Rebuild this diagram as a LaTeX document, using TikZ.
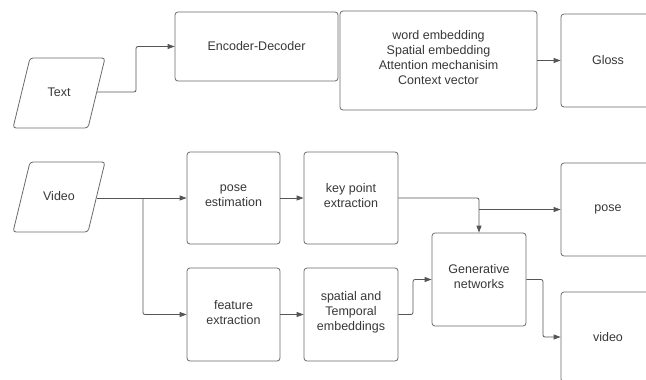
\documentclass[tikz,border=0pt]{standalone}
\usepackage{fontspec}
\setmainfont{Liberation Sans}
\usetikzlibrary{arrows.meta}
\definecolor{linegray}{HTML}{555555}
\definecolor{boxgray}{HTML}{6A6A6A}
\definecolor{txtgray}{HTML}{383838}
\tikzset{
  box/.style={draw=boxgray, line width=0.8pt, rounded corners=3pt, inner sep=0pt,
    align=center, text=txtgray, font=\fontsize{12.5}{15}\selectfont},
  lbl/.style={inner sep=0pt, align=center, text=txtgray, font=\fontsize{12.5}{15}\selectfont},
  conn/.style={draw=linegray, line width=0.8pt, rounded corners=2pt},
  arr/.style={conn, -{Triangle[length=7pt,width=5pt]}},
  para/.style={draw=boxgray, line width=0.8pt, rounded corners=3pt}
}
\begin{document}
\begin{tikzpicture}[x=1pt,y=-1pt]
\useasboundingbox (0,0) rectangle (646,380);
\clip (0,0) rectangle (646,380);
\fill[white] (0,0) rectangle (646,380);

% Text input
\draw[para] (30,58) -- (105,58) -- (88,128) -- (13,128) -- cycle;
\node[lbl] (text) at (59,92) {Text};
\coordinate (textR) at (97,92);

% Top row boxes
\node[box, minimum width=163pt, minimum height=69pt] (enc) at (256.5,46.5) {Encoder-Decoder};
\node[box, minimum width=197pt, minimum height=99pt] (words) at (438.5,60.5) {};
\node[lbl] (wordstxt) at (438.5,58) {word embedding\\Spatial embedding\\Attention mechanisim\\Context vector};
\node[box, minimum width=94pt, minimum height=93pt] (gloss) at (608,60.5) {Gloss};

\coordinate (j1) at (136,0);
\draw[arr] (textR) -- (j1 |- textR) |- (enc.west);
\draw[arr] (words.east) -- (gloss.west);

% Video input
\draw[para] (30,162) -- (105,162) -- (88,232) -- (13,232) -- cycle;
\node[lbl] (video) at (59,196) {Video};
\coordinate (videoR) at (97,198);

% Bottom boxes
\node[box, minimum width=93pt, minimum height=92pt] (poseest) at (233.5,198) {};
\node[lbl] at (233.5,196) {pose\\estimation};
\node[box, minimum width=94pt, minimum height=92pt] (keypt) at (351,198) {};
\node[lbl] at (351,196) {key point\\extraction};
\node[box, minimum width=93pt, minimum height=93pt] (feat) at (233.5,314.5) {};
\node[lbl] at (233.5,313) {feature\\extraction};
\node[box, minimum width=94pt, minimum height=93pt] (spat) at (351,314.5) {};
\node[lbl] at (351,312) {spatial and\\Temporal\\embeddings};
\node[box, minimum width=94pt, minimum height=93pt] (gen) at (479,279.5) {};
\node[lbl] at (479,277) {Generative\\networks};
\node[box, minimum width=94pt, minimum height=93pt] (pose) at (608,209.5) {pose};
\node[box, minimum width=94pt, minimum height=90pt] (vid) at (608,337) {video};

% Connectors
\coordinate (j2) at (143,0);
\coordinate (j3) at (413,0);
\coordinate (j4) at (543,0);
\draw[arr] (videoR) -- (poseest.west);
\draw[arr] (j2 |- videoR) |- (feat.west);
\draw[arr] (poseest.east) -- (keypt.west);
\draw[arr] (feat.east) -- (spat.west);
\draw[arr] (keypt.east) -| (gen.north);
\draw[arr] (gen.north |- pose.west) -- (pose.west);
\draw[arr] (spat.east) -- (j3 |- spat.east) |- (gen.west);
\draw[arr] (gen.east) -- (j4 |- gen.east) |- (vid.west);
\end{tikzpicture}
\end{document}
